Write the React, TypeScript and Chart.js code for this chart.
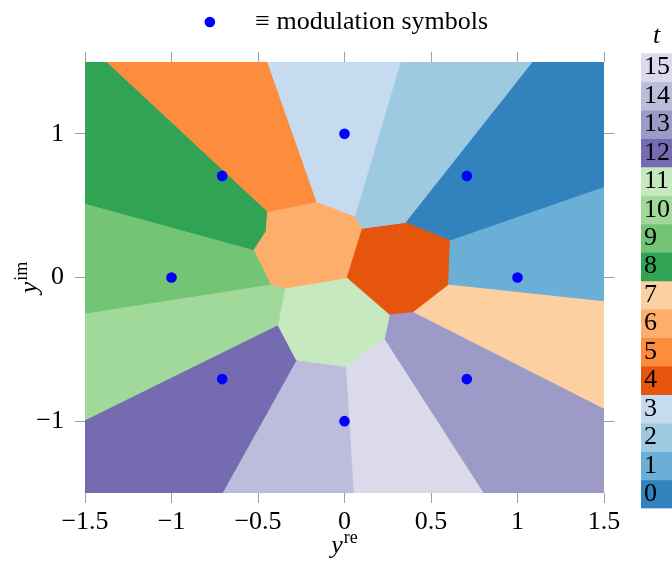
import React, { useEffect, useRef } from "react";
import { Chart, registerables } from "chart.js";

Chart.register(...registerables);

const FONT = "'Liberation Serif', 'DejaVu Serif', serif";

// axis ticks
const X_TICKS = [-1.5, -1, -0.5, 0, 0.5, 1, 1.5];
const Y_TICKS = [-1, 0, 1];

// modulation symbols (8-PSK)
const SYMBOL_RE = [0.7071, 1, 0, -0.7071, -1, -0.7071, 0, 0.7071];
const SYMBOL_IM = [0.7071, 0, 1, 0.7071, 0, -0.7071, -1, -0.7071];

// tab20c colours, index t = 0..15
const TAB20C = [
  "#3182bd", "#6baed6", "#9ecae1", "#c6dbef",
  "#e6550d", "#fd8d3c", "#fdae6b", "#fdd0a2",
  "#31a354", "#74c476", "#a1d99b", "#c7e9c0",
  "#756bb1", "#9e9ac8", "#bcbddc", "#dadaeb",
];

// colour bar
const CBAR_TICKS = ["0", "1", "2", "3", "4", "5", "6", "7", "8", "9", "10", "11", "12", "13", "14", "15"];
const CBAR_VALUES = [1, 1, 1, 1, 1, 1, 1, 1, 1, 1, 1, 1, 1, 1, 1, 1];

// decision regions (vertices), one per t
const REGION_0 = [[1.09, 1.5], [1.5, 1.5], [1.5, 0.633], [0.612, 0.262], [0.358, 0.385]];
const REGION_1 = [[1.5, 0.633], [1.5, -0.162], [0.602, -0.046], [0.612, 0.262]];
const REGION_2 = [[0.328, 1.5], [1.09, 1.5], [0.358, 0.385], [0.104, 0.343], [0.064, 0.425]];
const REGION_3 = [[-0.444, 1.5], [0.328, 1.5], [0.064, 0.425], [-0.16, 0.529]];
const REGION_4 = [[0.104, 0.343], [0.358, 0.385], [0.612, 0.262], [0.602, -0.046], [0.397, -0.237], [0.26, -0.255], [0.016, 0.0]];
const REGION_5 = [[-1.372, 1.5], [-0.444, 1.5], [-0.16, 0.529], [-0.444, 0.459]];
const REGION_6 = [[-0.444, 0.459], [-0.16, 0.529], [0.064, 0.425], [0.104, 0.343], [0.016, 0.0], [-0.346, -0.074], [-0.424, -0.046], [-0.522, 0.193], [-0.453, 0.32]];
const REGION_7 = [[1.5, -0.162], [1.5, -0.91], [0.397, -0.237], [0.602, -0.046]];
const REGION_8 = [[-1.5, 0.517], [-1.5, 1.5], [-1.372, 1.5], [-0.444, 0.459], [-0.453, 0.32], [-0.522, 0.193]];
const REGION_9 = [[-1.5, -0.248], [-1.5, 0.517], [-0.522, 0.193], [-0.424, -0.046]];
const REGION_10 = [[-1.5, -0.991], [-1.5, -0.248], [-0.424, -0.046], [-0.346, -0.074], [-0.385, -0.329]];
const REGION_11 = [[-0.346, -0.074], [0.016, 0.0], [0.26, -0.255], [0.231, -0.422], [0.006, -0.619], [-0.278, -0.573], [-0.385, -0.329]];
const REGION_12 = [[-0.707, -1.5], [-1.5, -1.5], [-1.5, -0.991], [-0.385, -0.329], [-0.278, -0.573]];
const REGION_13 = [[1.5, -0.91], [1.5, -1.5], [0.807, -1.5], [0.231, -0.422], [0.26, -0.255], [0.397, -0.237]];
const REGION_14 = [[0.051, -1.5], [-0.707, -1.5], [-0.278, -0.573], [0.006, -0.619]];
const REGION_15 = [[0.807, -1.5], [0.051, -1.5], [0.006, -0.619], [0.231, -0.422]];

const REGIONS = [
  REGION_0, REGION_1, REGION_2, REGION_3, REGION_4, REGION_5, REGION_6, REGION_7,
  REGION_8, REGION_9, REGION_10, REGION_11, REGION_12, REGION_13, REGION_14, REGION_15,
];

const fmt = (v: number) => (v < 0 ? "\u2212" + Math.abs(v) : String(v));

const TICK_GRID = {
  drawOnChartArea: false,
  drawTicks: true,
  tickLength: 10,
  color: "#a0a0a0",
  lineWidth: 1,
};

const axisTitles = {
  id: "axisTitles",
  afterDraw(chart: any) {
    const { ctx, chartArea } = chart;
    const big = `italic 26px ${FONT}`;
    const small = `18px ${FONT}`;
    ctx.save();
    ctx.fillStyle = "#000";
    ctx.textBaseline = "alphabetic";
    ctx.textAlign = "left";
    const draw = (sup: string, cx: number, by: number) => {
      ctx.font = big;
      const wy = ctx.measureText("y").width;
      ctx.font = small;
      const ws = ctx.measureText(sup).width;
      const x0 = cx - (wy + 1 + ws) / 2;
      ctx.font = big;
      ctx.fillText("y", x0, by);
      ctx.font = small;
      ctx.fillText(sup, x0 + wy + 1, by - 10);
    };
    draw("re", (chartArea.left + chartArea.right) / 2, chartArea.bottom + 60);
    ctx.translate(chartArea.left - 48, (chartArea.top + chartArea.bottom) / 2);
    ctx.rotate(-Math.PI / 2);
    draw("im", 0, 0);
    ctx.restore();
  },
};

function MainChart() {
  const ref = useRef<HTMLCanvasElement>(null);
  useEffect(() => {
    const regionSets = REGIONS.map((poly, i) => ({
      type: "scatter" as const,
      label: "t=" + i,
      data: [...poly, poly[0]].map(([x, y]) => ({ x, y })),
      showLine: true,
      fill: "shape",
      backgroundColor: TAB20C[i],
      borderColor: TAB20C[i],
      borderWidth: 1,
      pointRadius: 0,
      pointHoverRadius: 0,
      tension: 0,
      order: 1,
    }));
    const symbols = {
      type: "scatter" as const,
      label: "   \u2261 modulation symbols",
      data: SYMBOL_RE.map((x, i) => ({ x, y: SYMBOL_IM[i] })),
      backgroundColor: "#0000ff",
      borderColor: "#0000ff",
      borderWidth: 0,
      pointRadius: 5.3,
      pointHoverRadius: 5.3,
      pointStyle: "circle",
      order: 0,
    };
    const chart = new Chart(ref.current!, {
      type: "scatter",
      data: { datasets: [...regionSets, symbols] as any },
      plugins: [axisTitles],
      options: {
        responsive: false,
        animation: false,
        events: [],
        layout: { padding: { left: 13, right: 0, top: 0, bottom: 0 } },
        plugins: {
          tooltip: { enabled: false },
          legend: {
            display: true,
            position: "top",
            labels: {
              usePointStyle: true,
              pointStyle: "circle",
              boxHeight: 7.5,
              color: "#000",
              padding: 9,
              font: { family: FONT, size: 26 },
              filter: (item: any) => item.datasetIndex === 16,
            },
          },
        },
        scales: {
          x: {
            type: "linear",
            position: "bottom",
            min: -1.5,
            max: 1.5,
            afterBuildTicks: (s: any) => {
              s.ticks = X_TICKS.map((v) => ({ value: v }));
            },
            afterFit: (s: any) => {
              s.height = 73;
            },
            grid: TICK_GRID,
            border: { display: false },
            ticks: {
              color: "#000",
              font: { family: FONT, size: 26 },
              padding: 4,
              maxRotation: 0,
              autoSkip: false,
              callback: (v: any) => fmt(Number(v)),
            },
          },
          x2: {
            type: "linear",
            position: "top",
            min: -1.5,
            max: 1.5,
            afterBuildTicks: (s: any) => {
              s.ticks = X_TICKS.map((v) => ({ value: v }));
            },
            afterFit: (s: any) => {
              const lh = s.chart.legend ? s.chart.legend.height : 45;
              s.height = Math.max(0, 62 - lh);
            },
            grid: TICK_GRID,
            border: { display: false },
            ticks: { display: false },
          },
          y: {
            type: "linear",
            position: "left",
            min: -1.5,
            max: 1.5,
            afterBuildTicks: (s: any) => {
              s.ticks = Y_TICKS.map((v) => ({ value: v }));
            },
            afterFit: (s: any) => {
              s.width = 72;
            },
            grid: TICK_GRID,
            border: { display: false },
            ticks: {
              color: "#000",
              font: { family: FONT, size: 26 },
              padding: 11,
              autoSkip: false,
              callback: (v: any) => fmt(Number(v)),
            },
          },
          y2: {
            type: "linear",
            position: "right",
            min: -1.5,
            max: 1.5,
            afterBuildTicks: (s: any) => {
              s.ticks = Y_TICKS.map((v) => ({ value: v }));
            },
            afterFit: (s: any) => {
              s.width = 68;
            },
            grid: TICK_GRID,
            border: { display: false },
            ticks: { display: false },
          },
        },
      } as any,
    });
    return () => chart.destroy();
  }, []);
  return (
    <canvas
      ref={ref}
      width={672}
      height={566}
      style={{ position: "absolute", left: 0, top: 0, width: 672, height: 566, display: "block" }}
    />
  );
}

function ColorBar() {
  const ref = useRef<HTMLCanvasElement>(null);
  useEffect(() => {
    const chart = new Chart(ref.current!, {
      type: "bar",
      data: {
        labels: CBAR_TICKS,
        datasets: [
          {
            data: CBAR_VALUES,
            backgroundColor: TAB20C,
            borderWidth: 0,
            barPercentage: 1,
            categoryPercentage: 1,
          },
        ],
      },
      options: {
        indexAxis: "y",
        responsive: false,
        animation: false,
        events: [],
        layout: { padding: 0 },
        plugins: {
          legend: { display: false },
          tooltip: { enabled: false },
          title: {
            display: true,
            text: "t",
            color: "#000",
            font: { family: FONT, size: 26, style: "italic", weight: "normal", lineHeight: 1.2 },
            padding: { top: 0, bottom: 1 },
          },
        },
        scales: {
          x: { display: false, min: 0, max: 1 },
          y: {
            reverse: true,
            grid: { display: false },
            border: { display: false },
            afterFit: (s: any) => {
              s.width = 0;
            },
            ticks: {
              z: 2,
              mirror: true,
              padding: 3,
              autoSkip: false,
              color: "#000",
              font: { family: FONT, size: 26 },
            },
          },
        },
      } as any,
    });
    return () => chart.destroy();
  }, []);
  return (
    <canvas
      ref={ref}
      width={31}
      height={506}
      style={{ position: "absolute", left: 641, top: 21, width: 31, height: 506, display: "block" }}
    />
  );
}

export default function App() {
  return (
    <div
      style={{
        position: "absolute",
        left: 0,
        top: 0,
        width: 672,
        height: 566,
        overflow: "hidden",
        background: "#fff",
      }}
    >
      <MainChart />
      <ColorBar />
    </div>
  );
}
